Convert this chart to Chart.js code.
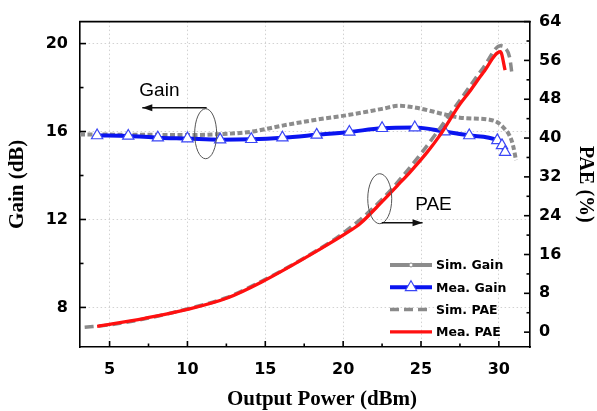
<!DOCTYPE html>
<html>
<head>
<meta charset="utf-8">
<script src="https://cdn.jsdelivr.net/npm/chart.js@4.4.0/dist/chart.umd.min.js"></script>
<style>
  body { margin: 0; background: #fff; }
</style>
</head>
<body>
<canvas id="chart" width="597" height="411"></canvas>
<script>
// tick labels
const xTicks = [5, 10, 15, 20, 25, 30];
const gainTicks = [8, 12, 16, 20];
const paeTicks = [0, 8, 16, 24, 32, 40, 48, 56, 64];

// Sim. Gain (dB)
const simGainPower = [3.1, 5, 7.5, 10, 12, 14, 16.1, 18.3, 20.4, 22.5, 23.6, 24.7, 26.4, 27.5, 29.4, 29.9, 30.4, 30.7, 30.9, 31.1];
const simGain = [15.87, 15.86, 15.85, 15.84, 15.88, 15.98, 16.27, 16.54, 16.76, 17.03, 17.17, 17.08, 16.8, 16.63, 16.54, 16.42, 16.1, 15.8, 15.4, 14.7];

// Mea. Gain (dB)
const meaGainPower = [4.2, 6.2, 8.1, 10.0, 12.1, 14.1, 16.1, 18.3, 20.4, 22.5, 24.6, 26.5, 28.1, 29.9, 30.2, 30.4];
const meaGain = [15.82, 15.8, 15.72, 15.68, 15.63, 15.65, 15.72, 15.85, 15.98, 16.15, 16.18, 16.0, 15.82, 15.6, 15.37, 15.06];

// Sim. PAE (%)
const simPaePower = [3.4, 5, 7.5, 10, 12.5, 15, 17.5, 20, 22.5, 25, 27.5, 29, 30.1, 30.4, 30.7, 30.85];
const simPae = [1.0, 1.5, 2.9, 4.8, 7.1, 10.9, 15.3, 20.4, 27.4, 36.8, 47.8, 54.5, 59.0, 58.6, 56.5, 53.0];

// Mea. PAE (%)
const meaPaePower = [4.2, 5, 7.25, 10, 12.6, 14.8, 18.3, 20.4, 21.1, 22.5, 23.6, 24.3, 25.4, 26.2, 27.5, 28.1, 29, 30.1, 30.4];
const meaPae = [1.2, 1.6, 2.85, 4.7, 7.1, 10.4, 16.7, 20.8, 22.4, 26.9, 30.6, 33, 37.1, 40.5, 47, 49.5, 53.5, 57.8, 54];

const xTitle = 'Output Power (dBm)';

function toPoints(xs, ys) {
  return xs.map((x, i) => ({ x: x, y: ys[i] }));
}

const tickFont = { family: 'DejaVu Sans', weight: 'bold', size: 16 };
const titleFont = { family: 'Liberation Serif', weight: 'bold', size: 21 };

// ticks pointing into the plot, the top frame line and the x title
const innerTicks = {
  id: 'innerTicks',
  afterDraw(chart) {
    const { ctx, chartArea: a, scales } = chart;
    const minors = t => t.slice(0, -1).map((v, i) => (v + t[i + 1]) / 2);
    const mark = (x1, y1, x2, y2) => {
      ctx.beginPath(); ctx.moveTo(x1, y1); ctx.lineTo(x2, y2); ctx.stroke();
    };
    ctx.save();
    ctx.strokeStyle = '#000';
    ctx.lineWidth = 1.6;
    xTicks.forEach(v => { const p = scales.x.getPixelForValue(v); mark(p, a.bottom, p, a.bottom - 6); });
    minors(xTicks).forEach(v => { const p = scales.x.getPixelForValue(v); mark(p, a.bottom, p, a.bottom - 3.5); });
    gainTicks.forEach(v => { const p = scales.y.getPixelForValue(v); mark(a.left, p, a.left + 6, p); });
    minors(gainTicks).forEach(v => { const p = scales.y.getPixelForValue(v); mark(a.left, p, a.left + 3.5, p); });
    paeTicks.forEach(v => { const p = scales.y2.getPixelForValue(v); mark(a.right, p, a.right - 6, p); });
    minors(paeTicks).forEach(v => { const p = scales.y2.getPixelForValue(v); mark(a.right, p, a.right - 3.5, p); });
    mark(a.left - 0.8, a.top, a.right + 0.8, a.top);

    // x title sits a little right of centre in the original
    ctx.fillStyle = '#000';
    ctx.font = 'bold 21px "Liberation Serif"';
    ctx.textAlign = 'center';
    ctx.textBaseline = 'middle';
    ctx.fillText(xTitle, (a.left + a.right) / 2 + 17, chart.height - 11);
    ctx.restore();
  }
};

function arrow(ctx, x1, y1, x2, y2) {
  const ang = Math.atan2(y2 - y1, x2 - x1);
  ctx.beginPath(); ctx.moveTo(x1, y1); ctx.lineTo(x2, y2); ctx.stroke();
  ctx.beginPath();
  ctx.moveTo(x2, y2);
  ctx.lineTo(x2 - 10 * Math.cos(ang) + 3.5 * Math.sin(ang), y2 - 10 * Math.sin(ang) - 3.5 * Math.cos(ang));
  ctx.lineTo(x2 - 10 * Math.cos(ang) - 3.5 * Math.sin(ang), y2 - 10 * Math.sin(ang) + 3.5 * Math.cos(ang));
  ctx.closePath();
  ctx.fill();
}

// ellipses, arrows and the Gain / PAE labels
const notes = {
  id: 'notes',
  afterDatasetsDraw(chart) {
    const { ctx, scales: { x, y, y2 } } = chart;
    ctx.save();
    ctx.strokeStyle = '#555';
    ctx.lineWidth = 1;
    const gx = x.getPixelForValue(11.17), gy = y.getPixelForValue(15.9);
    ctx.beginPath(); ctx.ellipse(gx, gy, 11, 25, 0, 0, Math.PI * 2); ctx.stroke();
    const px = x.getPixelForValue(22.35), py = y2.getPixelForValue(27.5);
    ctx.beginPath(); ctx.ellipse(px, py, 12, 25, 0, 0, Math.PI * 2); ctx.stroke();

    ctx.strokeStyle = '#111';
    ctx.fillStyle = '#111';
    ctx.lineWidth = 1.5;
    arrow(ctx, gx + 1, gy - 26, x.getPixelForValue(7.1), gy - 26);
    arrow(ctx, px + 2, py + 24, x.getPixelForValue(25.1), py + 24);

    ctx.fillStyle = '#000';
    ctx.font = '19px "Liberation Sans"';
    ctx.textAlign = 'center';
    ctx.textBaseline = 'middle';
    ctx.fillText('Gain', x.getPixelForValue(8.2), y.getPixelForValue(17.84));
    ctx.fillText('PAE', x.getPixelForValue(25.8), y2.getPixelForValue(26.3));
    ctx.restore();
  }
};

// legend inside the lower right corner of the plot
const legendBox = {
  id: 'legendBox',
  afterDatasetsDraw(chart) {
    const { ctx, chartArea: a } = chart;
    const x0 = a.right - 140, y0 = a.bottom - 82;
    chart.data.datasets.forEach((ds, i) => {
      const yy = y0 + i * 22.3;
      ctx.save();
      ctx.strokeStyle = ds.borderColor;
      ctx.lineWidth = ds.borderWidth;
      ctx.setLineDash(ds.legendSolid ? [] : (ds.borderDash || []));
      ctx.beginPath(); ctx.moveTo(x0, yy); ctx.lineTo(x0 + 42, yy); ctx.stroke();
      ctx.setLineDash([]);
      if (ds.legendSolid) {
        ctx.fillStyle = '#fff';
        ctx.lineWidth = 1;
        ctx.beginPath(); ctx.arc(x0 + 21, yy, 2, 0, Math.PI * 2); ctx.fill(); ctx.stroke();
      }
      if (ds.pointStyle === 'triangle') {
        ctx.fillStyle = ds.pointBackgroundColor;
        ctx.strokeStyle = ds.pointBorderColor;
        ctx.lineWidth = ds.pointBorderWidth;
        Chart.helpers.drawPoint(ctx, { pointStyle: 'triangle', radius: ds.pointRadius, borderWidth: ds.pointBorderWidth, rotation: 0 }, x0 + 21, yy);
      }
      ctx.fillStyle = '#000';
      ctx.font = 'bold 12.5px "DejaVu Sans"';
      ctx.textAlign = 'left';
      ctx.textBaseline = 'middle';
      ctx.fillText(ds.label, x0 + 46, yy + 1);
      ctx.restore();
    });
  }
};

new Chart(document.getElementById('chart'), {
  type: 'scatter',
  data: {
    datasets: [
      {
        label: 'Sim. Gain',
        data: toPoints(simGainPower, simGain),
        yAxisID: 'y',
        showLine: true,
        borderColor: '#8c8c8c',
        borderWidth: 4,
        borderDash: [5, 2.5],
        legendSolid: true,
        pointRadius: 0,
        cubicInterpolationMode: 'monotone',
        order: 3
      },
      {
        label: 'Mea. Gain',
        data: toPoints(meaGainPower, meaGain),
        yAxisID: 'y',
        showLine: true,
        borderColor: '#0a14f0',
        borderWidth: 4,
        pointStyle: 'triangle',
        pointRadius: 6.5,
        pointBorderWidth: 1.2,
        pointBorderColor: '#3a46f5',
        pointBackgroundColor: '#fff',
        cubicInterpolationMode: 'monotone',
        order: 2
      },
      {
        label: 'Sim. PAE',
        data: toPoints(simPaePower, simPae),
        yAxisID: 'y2',
        showLine: true,
        borderColor: '#8a8a8a',
        borderWidth: 3.5,
        borderDash: [9, 5],
        pointRadius: 0,
        cubicInterpolationMode: 'monotone',
        order: 1
      },
      {
        label: 'Mea. PAE',
        data: toPoints(meaPaePower, meaPae),
        yAxisID: 'y2',
        showLine: true,
        borderColor: '#ff1010',
        borderWidth: 3.3,
        pointRadius: 0,
        cubicInterpolationMode: 'monotone',
        order: 0
      }
    ]
  },
  options: {
    responsive: false,
    devicePixelRatio: 1,
    animation: false,
    layout: { padding: { top: 18, left: 0, right: 0, bottom: 0 } },
    plugins: {
      legend: { display: false },
      tooltip: { enabled: false }
    },
    scales: {
      x: {
        type: 'linear',
        min: 3.1,
        max: 32,
        afterBuildTicks: s => { s.ticks = xTicks.map(v => ({ value: v })); },
        afterFit: s => { s.height = 64; },
        grid: { drawTicks: false, color: '#d2d2d2', lineWidth: 1 },
        border: { color: '#000', width: 1.6, dash: [1.5, 2.5] },
        ticks: { padding: 13, color: '#000', font: tickFont },
        title: { display: false }
      },
      y: {
        type: 'linear',
        position: 'left',
        min: 6.2,
        max: 21,
        afterBuildTicks: s => { s.ticks = gainTicks.map(v => ({ value: v })); },
        afterFit: s => { s.width = 80; },
        grid: { drawTicks: false, color: '#d2d2d2', lineWidth: 1 },
        border: { color: '#000', width: 1.6, dash: [1.5, 2.5] },
        ticks: { padding: 12, color: '#000', font: tickFont },
        title: { display: true, text: 'Gain (dB)', color: '#000', font: titleFont, padding: { top: 5, bottom: 0 } }
      },
      y2: {
        type: 'linear',
        position: 'right',
        min: -3.06,
        max: 64,
        afterBuildTicks: s => { s.ticks = paeTicks.map(v => ({ value: v })); },
        afterFit: s => { s.width = 67; },
        grid: { display: false, drawOnChartArea: false, drawTicks: false },
        border: { color: '#000', width: 1.6 },
        ticks: { padding: 9, color: '#000', font: tickFont },
        title: { display: true, text: 'PAE (%)', color: '#000', font: { family: 'Liberation Serif', weight: 'bold', size: 20 }, padding: { top: 0, bottom: 0 } }
      }
    }
  },
  plugins: [innerTicks, notes, legendBox]
});
</script>
</body>
</html>
